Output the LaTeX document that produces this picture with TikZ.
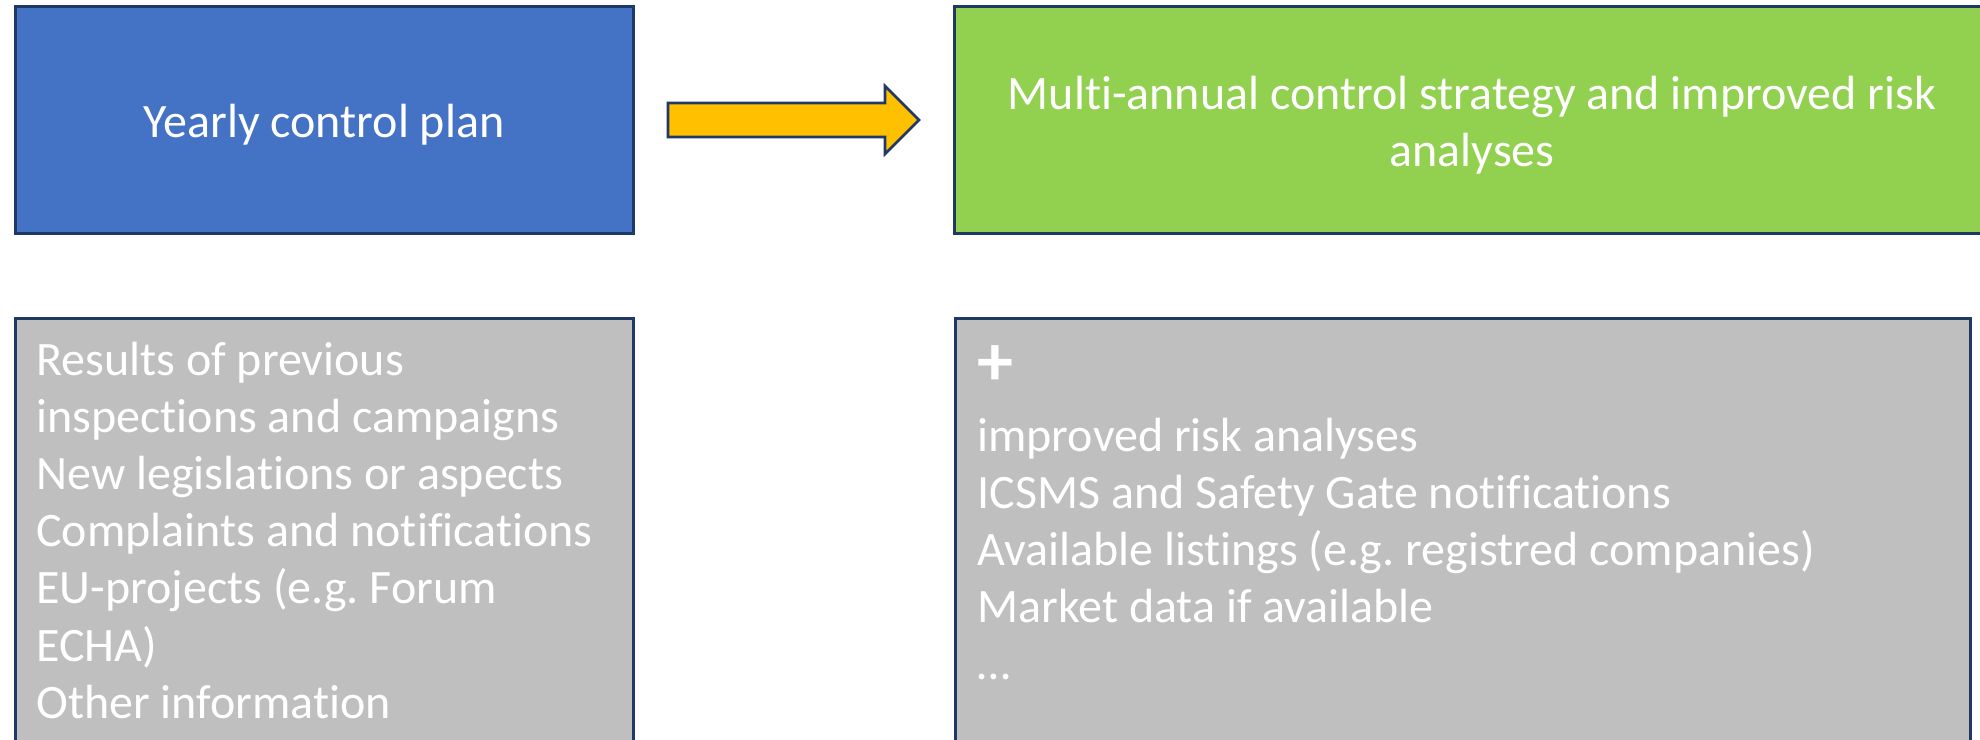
\documentclass[tikz,border=0pt]{standalone}
\usepackage{fontspec}
\setmainfont{Carlito}[Ligatures=NoCommon]
\usetikzlibrary{fit}
\frenchspacing
\definecolor{cblue}{HTML}{4472C4}
\definecolor{cgreen}{HTML}{92D050}
\definecolor{cgray}{HTML}{BFBFBF}
\definecolor{corange}{HTML}{FFC000}
\definecolor{cborder}{HTML}{1F3864}
\tikzset{
  box/.style={draw=cborder, line width=1.5pt, inner sep=0pt, rectangle},
  boxtext/.style={inner sep=0pt, text=white, font=\fontsize{24}{28.6}\selectfont\frenchspacing},
  blockarrow/.style={draw=cborder, fill=corange, line width=1.3pt, line join=miter}
}
\begin{document}
\begin{tikzpicture}[x=0.5pt,y=-0.5pt]
\useasboundingbox (0,0) rectangle (1980,739);
\fill[white] (0,0) rectangle (1980,739);
\clip (0,0) rectangle (1980,739);
% boxes
\node[box, fill=cblue, fit={(15,6) (633,233)}] (yearly) {};
\node[box, fill=cgreen, fit={(954,6) (1992,233)}] (multi) {};
\node[box, fill=cgray, fit={(15,318) (633,770)}] (leftbox) {};
\node[box, fill=cgray, fit={(955,318) (1970,770)}] (rightbox) {};
% block arrow
\draw[blockarrow] (668,103) -- (885,103) -- (885,86) -- (919,120) -- (885,154) -- (885,137) -- (668,137) -- cycle;
% texts
\node[boxtext, anchor=base] (ylabel) at (324,137) {Yearly control plan};
\node[boxtext, anchor=base] (mlabel) at (1472,109)
  {\begin{tabular}[t]{@{}c@{}}Multi-annual control strategy and improved risk\\analyses\end{tabular}};
\node[boxtext, anchor=base west] (leftlist) at (36,375)
  {\begin{tabular}[t]{@{}l@{}}
  Results of previous\\
  inspections and campaigns\\
  New legislations or aspects\\
  Complaints and notifications\\
  EU-projects (e.g. Forum\\
  ECHA)\\
  Other information
  \end{tabular}};
\node[boxtext, anchor=base west] (rightlist) at (977,385)
  {\begin{tabular}[t]{@{}l@{}}
  {\fontsize{36}{28.6}\selectfont\bfseries +}\\[4.4pt]
  improved risk analyses\\
  ICSMS and Safety Gate notifications\\
  Available listings (e.g. registred companies)\\
  Market data if available\\
  …
  \end{tabular}};
\end{tikzpicture}
\end{document}
